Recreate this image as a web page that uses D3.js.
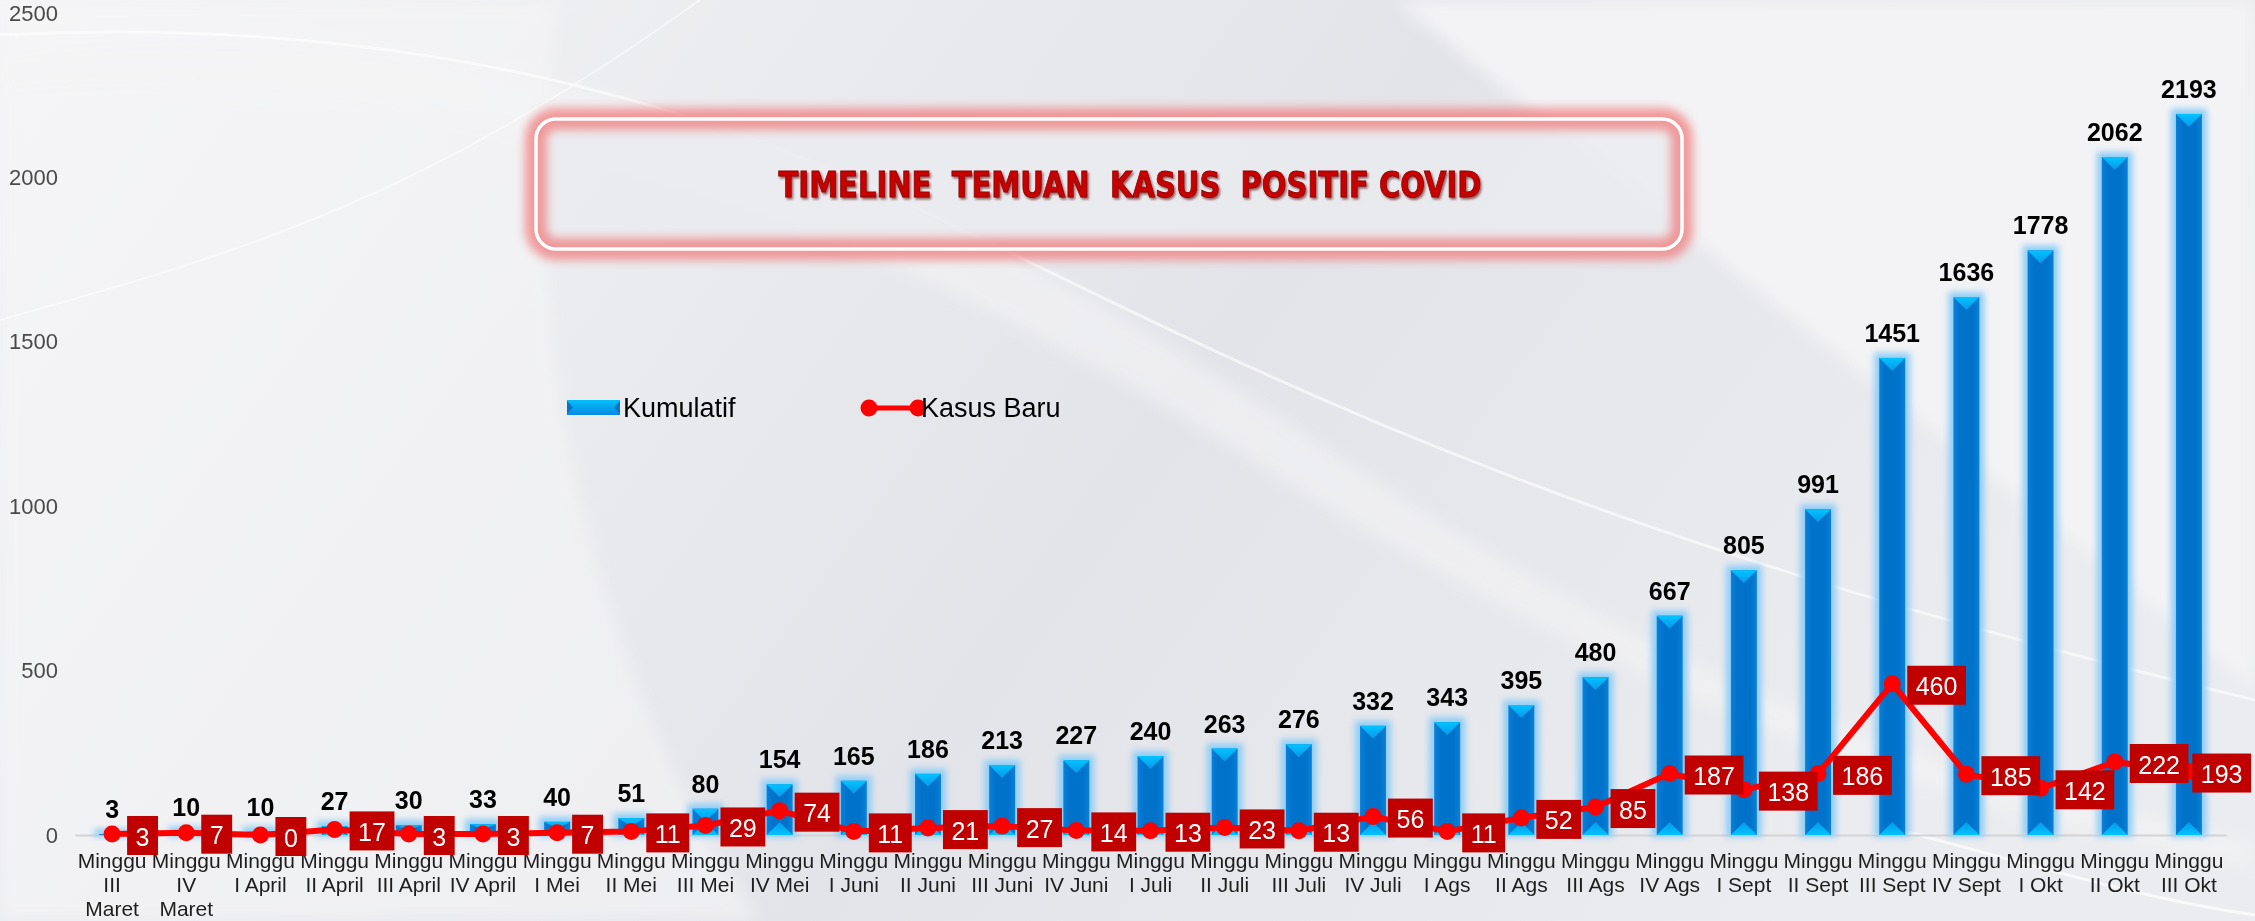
<!DOCTYPE html>
<html lang="id">
<head>
<meta charset="utf-8">
<title>Timeline Temuan Kasus Positif Covid</title>
<script src="https://cdn.jsdelivr.net/npm/d3@7"></script>
<style>
  body { margin: 0; overflow: hidden; background: #e8e9ec; }
  text { font-family: "Liberation Sans", Arial, sans-serif; }
</style>
</head>
<body>
<script>
// data
var weeks = ["Minggu|III|Maret", "Minggu|IV|Maret", "Minggu|I April", "Minggu|II April", "Minggu|III April",
  "Minggu|IV April", "Minggu|I Mei", "Minggu|II Mei", "Minggu|III Mei", "Minggu|IV Mei",
  "Minggu|I Juni", "Minggu|II Juni", "Minggu|III Juni", "Minggu|IV Juni", "Minggu|I Juli",
  "Minggu|II Juli", "Minggu|III Juli", "Minggu|IV Juli", "Minggu|I Ags", "Minggu|II Ags",
  "Minggu|III Ags", "Minggu|IV Ags", "Minggu|I Sept", "Minggu|II Sept", "Minggu|III Sept",
  "Minggu|IV Sept", "Minggu|I Okt", "Minggu|II Okt", "Minggu|III Okt"];
var kumulatif = [3, 10, 10, 27, 30, 33, 40, 51, 80, 154, 165, 186, 213, 227, 240, 263, 276, 332, 343, 395,
  480, 667, 805, 991, 1451, 1636, 1778, 2062, 2193];
var kasusBaru = [3, 7, 0, 17, 3, 3, 7, 11, 29, 74, 11, 21, 27, 14, 13, 23, 13, 56, 11, 52,
  85, 187, 138, 186, 460, 185, 142, 222, 193];
var yTicks = [0, 500, 1000, 1500, 2000, 2500];
var title = "TIMELINE  TEMUAN  KASUS  POSITIF COVID";

var w = 2255, h = 921;
var margin = {left: 75, right: 29, top: 13, bottom: 86};

var svg = d3.select("body").append("svg").attr("width", w).attr("height", h);
var defs = svg.append("defs");

// ---- background ----
var bg = defs.append("linearGradient").attr("id", "bg").attr("x1", 0).attr("x2", 1).attr("y1", 0).attr("y2", 0.3);
bg.append("stop").attr("offset", 0).attr("stop-color", "#f5f5f7");
bg.append("stop").attr("offset", 0.35).attr("stop-color", "#eaebee");
bg.append("stop").attr("offset", 0.6).attr("stop-color", "#e3e4e9");
bg.append("stop").attr("offset", 1).attr("stop-color", "#ebecef");
defs.append("filter").attr("id", "soft").attr("x", -0.1).attr("y", -0.1).attr("width", 1.2).attr("height", 1.2)
  .append("feGaussianBlur").attr("stdDeviation", 8);

svg.append("rect").attr("width", w).attr("height", h).attr("fill", "url(#bg)");
var swoosh = svg.append("g").attr("filter", "url(#soft)");
swoosh.append("path").attr("d", "M0,0 L560,0 C520,260 560,620 760,921 L0,921 Z").attr("fill", "#f5f5f7").attr("opacity", 0.6);
swoosh.append("path").attr("d", "M1395,0 L2255,0 L2255,690 C2000,480 1700,250 1395,0 Z").attr("fill", "#f3f3f5");
swoosh.append("path").attr("d", "M0,60 C500,-10 900,160 1300,430 S1900,760 2255,840 L2255,870 C1850,800 1500,620 1250,460 S500,40 0,90 Z").attr("fill", "#f3f3f5").attr("opacity", 0.6);
svg.append("path").attr("d", "M0,35 C300,20 600,60 900,200 S1500,520 2255,700").attr("fill", "none").attr("stroke", "#fff").attr("stroke-width", 3).attr("opacity", 0.6);
svg.append("path").attr("d", "M0,320 C250,250 420,200 700,0").attr("fill", "none").attr("stroke", "#fff").attr("stroke-width", 2).attr("opacity", 0.5);
svg.append("path").attr("d", "M1900,830 C2050,870 2150,900 2255,915").attr("fill", "none").attr("stroke", "#fff").attr("stroke-width", 3).attr("opacity", 0.7);

// ---- scales ----
var x = d3.scaleBand().domain(d3.range(weeks.length))
  .range([margin.left, w - margin.right]).paddingInner(0.65).paddingOuter(0.325);
var y = d3.scaleLinear().domain([0, 2500]).range([h - margin.bottom, margin.top]);
var bw = x.bandwidth();
var cx = function(i) { return x(i) + bw / 2; };

// ---- axes ----
var yAxis = svg.append("g").attr("transform", "translate(" + margin.left + ",0)")
  .call(d3.axisLeft(y).tickValues(yTicks).tickSize(0).tickPadding(17).tickFormat(d3.format("d")));
yAxis.select(".domain").remove();
yAxis.selectAll("text").attr("font-family", "Liberation Sans, Arial, sans-serif")
  .attr("font-size", 22).attr("fill", "#4a4a4a");

var xAxis = svg.append("g").attr("transform", "translate(0," + y(0) + ")")
  .call(d3.axisBottom(x).tickSize(0).tickFormat(""));
xAxis.select(".domain").attr("stroke", "#d4d4d6").attr("stroke-width", 2);
xAxis.selectAll(".tick text").remove();
xAxis.selectAll(".tick").each(function(i) {
  var t = d3.select(this).append("text")
    .attr("text-anchor", "middle").attr("font-size", 21).attr("fill", "#1e1e1e");
  weeks[i].split("|").forEach(function(s, k) {
    t.append("tspan").attr("x", 0).attr("y", 33 + k * 24).text(s);
  });
});

// ---- bars ----
var glow = defs.append("filter").attr("id", "glow").attr("x", -0.5).attr("y", -0.5).attr("width", 2).attr("height", 2);
glow.append("feGaussianBlur").attr("stdDeviation", 3);
var barGrad = defs.append("linearGradient").attr("id", "barGrad");
barGrad.append("stop").attr("offset", 0).attr("stop-color", "#0a80da");
barGrad.append("stop").attr("offset", 0.25).attr("stop-color", "#0072ca");
barGrad.append("stop").attr("offset", 0.75).attr("stop-color", "#0072ca");
barGrad.append("stop").attr("offset", 1).attr("stop-color", "#0a80da");
var triTop = defs.append("linearGradient").attr("id", "triTop").attr("x1", 0).attr("x2", 0).attr("y1", 0).attr("y2", 1);
triTop.append("stop").attr("offset", 0).attr("stop-color", "#00c4ff");
triTop.append("stop").attr("offset", 1).attr("stop-color", "#0a96ea");
var triBot = defs.append("linearGradient").attr("id", "triBot").attr("x1", 0).attr("x2", 0).attr("y1", 1).attr("y2", 0);
triBot.append("stop").attr("offset", 0).attr("stop-color", "#00c4ff");
triBot.append("stop").attr("offset", 1).attr("stop-color", "#0a96ea");

var bars = svg.append("g").selectAll("g").data(kumulatif).join("g");
bars.append("rect").attr("x", function(d, i) { return x(i) - 5; }).attr("width", bw + 10)
  .attr("y", function(d) { return y(d) - 5; }).attr("height", function(d) { return y(0) - y(d) + 7; })
  .attr("fill", "#8fcdf6").attr("filter", "url(#glow)");
bars.append("rect").attr("x", function(d, i) { return x(i); }).attr("width", bw)
  .attr("y", function(d) { return y(d); }).attr("height", function(d) { return y(0) - y(d); })
  .attr("fill", "url(#barGrad)");
bars.append("path").attr("fill", "url(#triTop)").attr("d", function(d, i) {
  var th = Math.min(13, (y(0) - y(d)) / 2);
  return "M" + x(i) + "," + y(d) + "h" + bw + "l" + (-bw / 2) + "," + th + "Z";
});
bars.append("path").attr("fill", "url(#triBot)").attr("d", function(d, i) {
  var th = Math.min(13, (y(0) - y(d)) / 2);
  return "M" + x(i) + "," + y(0) + "h" + bw + "l" + (-bw / 2) + "," + (-th) + "Z";
});
bars.append("text").attr("font-weight", "bold").attr("font-size", 25)
  .attr("text-anchor", "middle").attr("fill", "#000")
  .attr("x", function(d, i) { return cx(i); }).attr("y", function(d) { return y(d) - 16; })
  .text(function(d) { return d; });

// ---- line ----
var line = d3.line().x(function(d, i) { return cx(i); }).y(function(d) { return y(d); });
svg.append("path").datum(kasusBaru).attr("d", line).attr("fill", "none")
  .attr("stroke", "#ff0000").attr("stroke-width", 6).attr("stroke-linejoin", "round");
svg.append("g").selectAll("circle").data(kasusBaru).join("circle")
  .attr("cx", function(d, i) { return cx(i); }).attr("cy", function(d) { return y(d); })
  .attr("r", 8.5).attr("fill", "#ff0000");

var labels = svg.append("g").selectAll("g").data(kasusBaru).join("g");
labels.each(function(d, i) {
  var g = d3.select(this);
  var t = g.append("text").attr("font-size", 25).attr("fill", "#fff")
    .attr("text-anchor", "middle").attr("dominant-baseline", "central").text(d);
  var bwid = t.node().getComputedTextLength() + 17;
  var left = cx(i) + 15;
  if (left + bwid > w - 4) left = w - 4 - bwid;
  g.insert("rect", "text").attr("x", left).attr("y", y(d) - 18).attr("width", bwid).attr("height", 39)
    .attr("fill", "#c00000");
  t.attr("x", left + bwid / 2).attr("y", y(d) + 2.5);
});

// ---- legend ----
var lg = svg.append("g").attr("font-size", 27);
var legGrad = defs.append("linearGradient").attr("id", "legGrad").attr("x1", 0).attr("x2", 0).attr("y1", 0).attr("y2", 1);
legGrad.append("stop").attr("offset", 0).attr("stop-color", "#00c0fa");
legGrad.append("stop").attr("offset", 1).attr("stop-color", "#0a88e2");
lg.append("rect").attr("x", 567).attr("y", 400).attr("width", 53).attr("height", 15).attr("fill", "url(#legGrad)");
lg.append("path").attr("d", "M567,401 l6,6.5 l-6,6.5 Z M620,401 l-6,6.5 l6,6.5 Z").attr("fill", "#0a72c8");
lg.append("text").attr("x", 623).attr("y", 417).attr("fill", "#000").text("Kumulatif");
lg.append("line").attr("x1", 869).attr("x2", 918).attr("y1", 408).attr("y2", 408)
  .attr("stroke", "#ff0000").attr("stroke-width", 5);
lg.append("circle").attr("cx", 869).attr("cy", 408).attr("r", 8.5).attr("fill", "#ff0000");
lg.append("circle").attr("cx", 918).attr("cy", 408).attr("r", 8.5).attr("fill", "#ff0000");
lg.append("text").attr("x", 921).attr("y", 417).attr("fill", "#000").text("Kasus Baru");

// ---- title box ----
var tglow = defs.append("filter").attr("id", "tglow").attr("x", -0.1).attr("y", -0.3).attr("width", 1.2).attr("height", 1.6);
tglow.append("feGaussianBlur").attr("stdDeviation", 5);
var tb = svg.append("g");
tb.append("rect").attr("x", 536).attr("y", 119).attr("width", 1146).attr("height", 130).attr("rx", 20)
  .attr("fill", "#eaebee").attr("fill-opacity", 0.85);
tb.append("rect").attr("x", 536).attr("y", 119).attr("width", 1146).attr("height", 130).attr("rx", 20)
  .attr("fill", "none").attr("stroke", "#f07c7c").attr("stroke-width", 22).attr("opacity", 0.75)
  .attr("filter", "url(#tglow)");
tb.append("rect").attr("x", 536).attr("y", 119).attr("width", 1146).attr("height", 130).attr("rx", 20)
  .attr("fill", "none").attr("stroke", "#fff").attr("stroke-width", 3.5);
var tshadow = defs.append("filter").attr("id", "tshadow");
tshadow.append("feDropShadow").attr("dx", 1.5).attr("dy", 2).attr("stdDeviation", 1).attr("flood-color", "#5a0000").attr("flood-opacity", 0.6);
tb.append("text").attr("x", 1130).attr("y", 197).attr("text-anchor", "middle")
  .style("font-family", "DejaVu Sans, sans-serif").attr("font-weight", "bold").attr("font-stretch", "condensed")
  .attr("font-size", 35).attr("fill", "#c80000").attr("stroke", "#8a0000").attr("stroke-width", 0.8)
  .attr("textLength", 703).attr("lengthAdjust", "spacingAndGlyphs")
  .attr("filter", "url(#tshadow)").style("white-space", "pre").text(title);
</script>
</body>
</html>
